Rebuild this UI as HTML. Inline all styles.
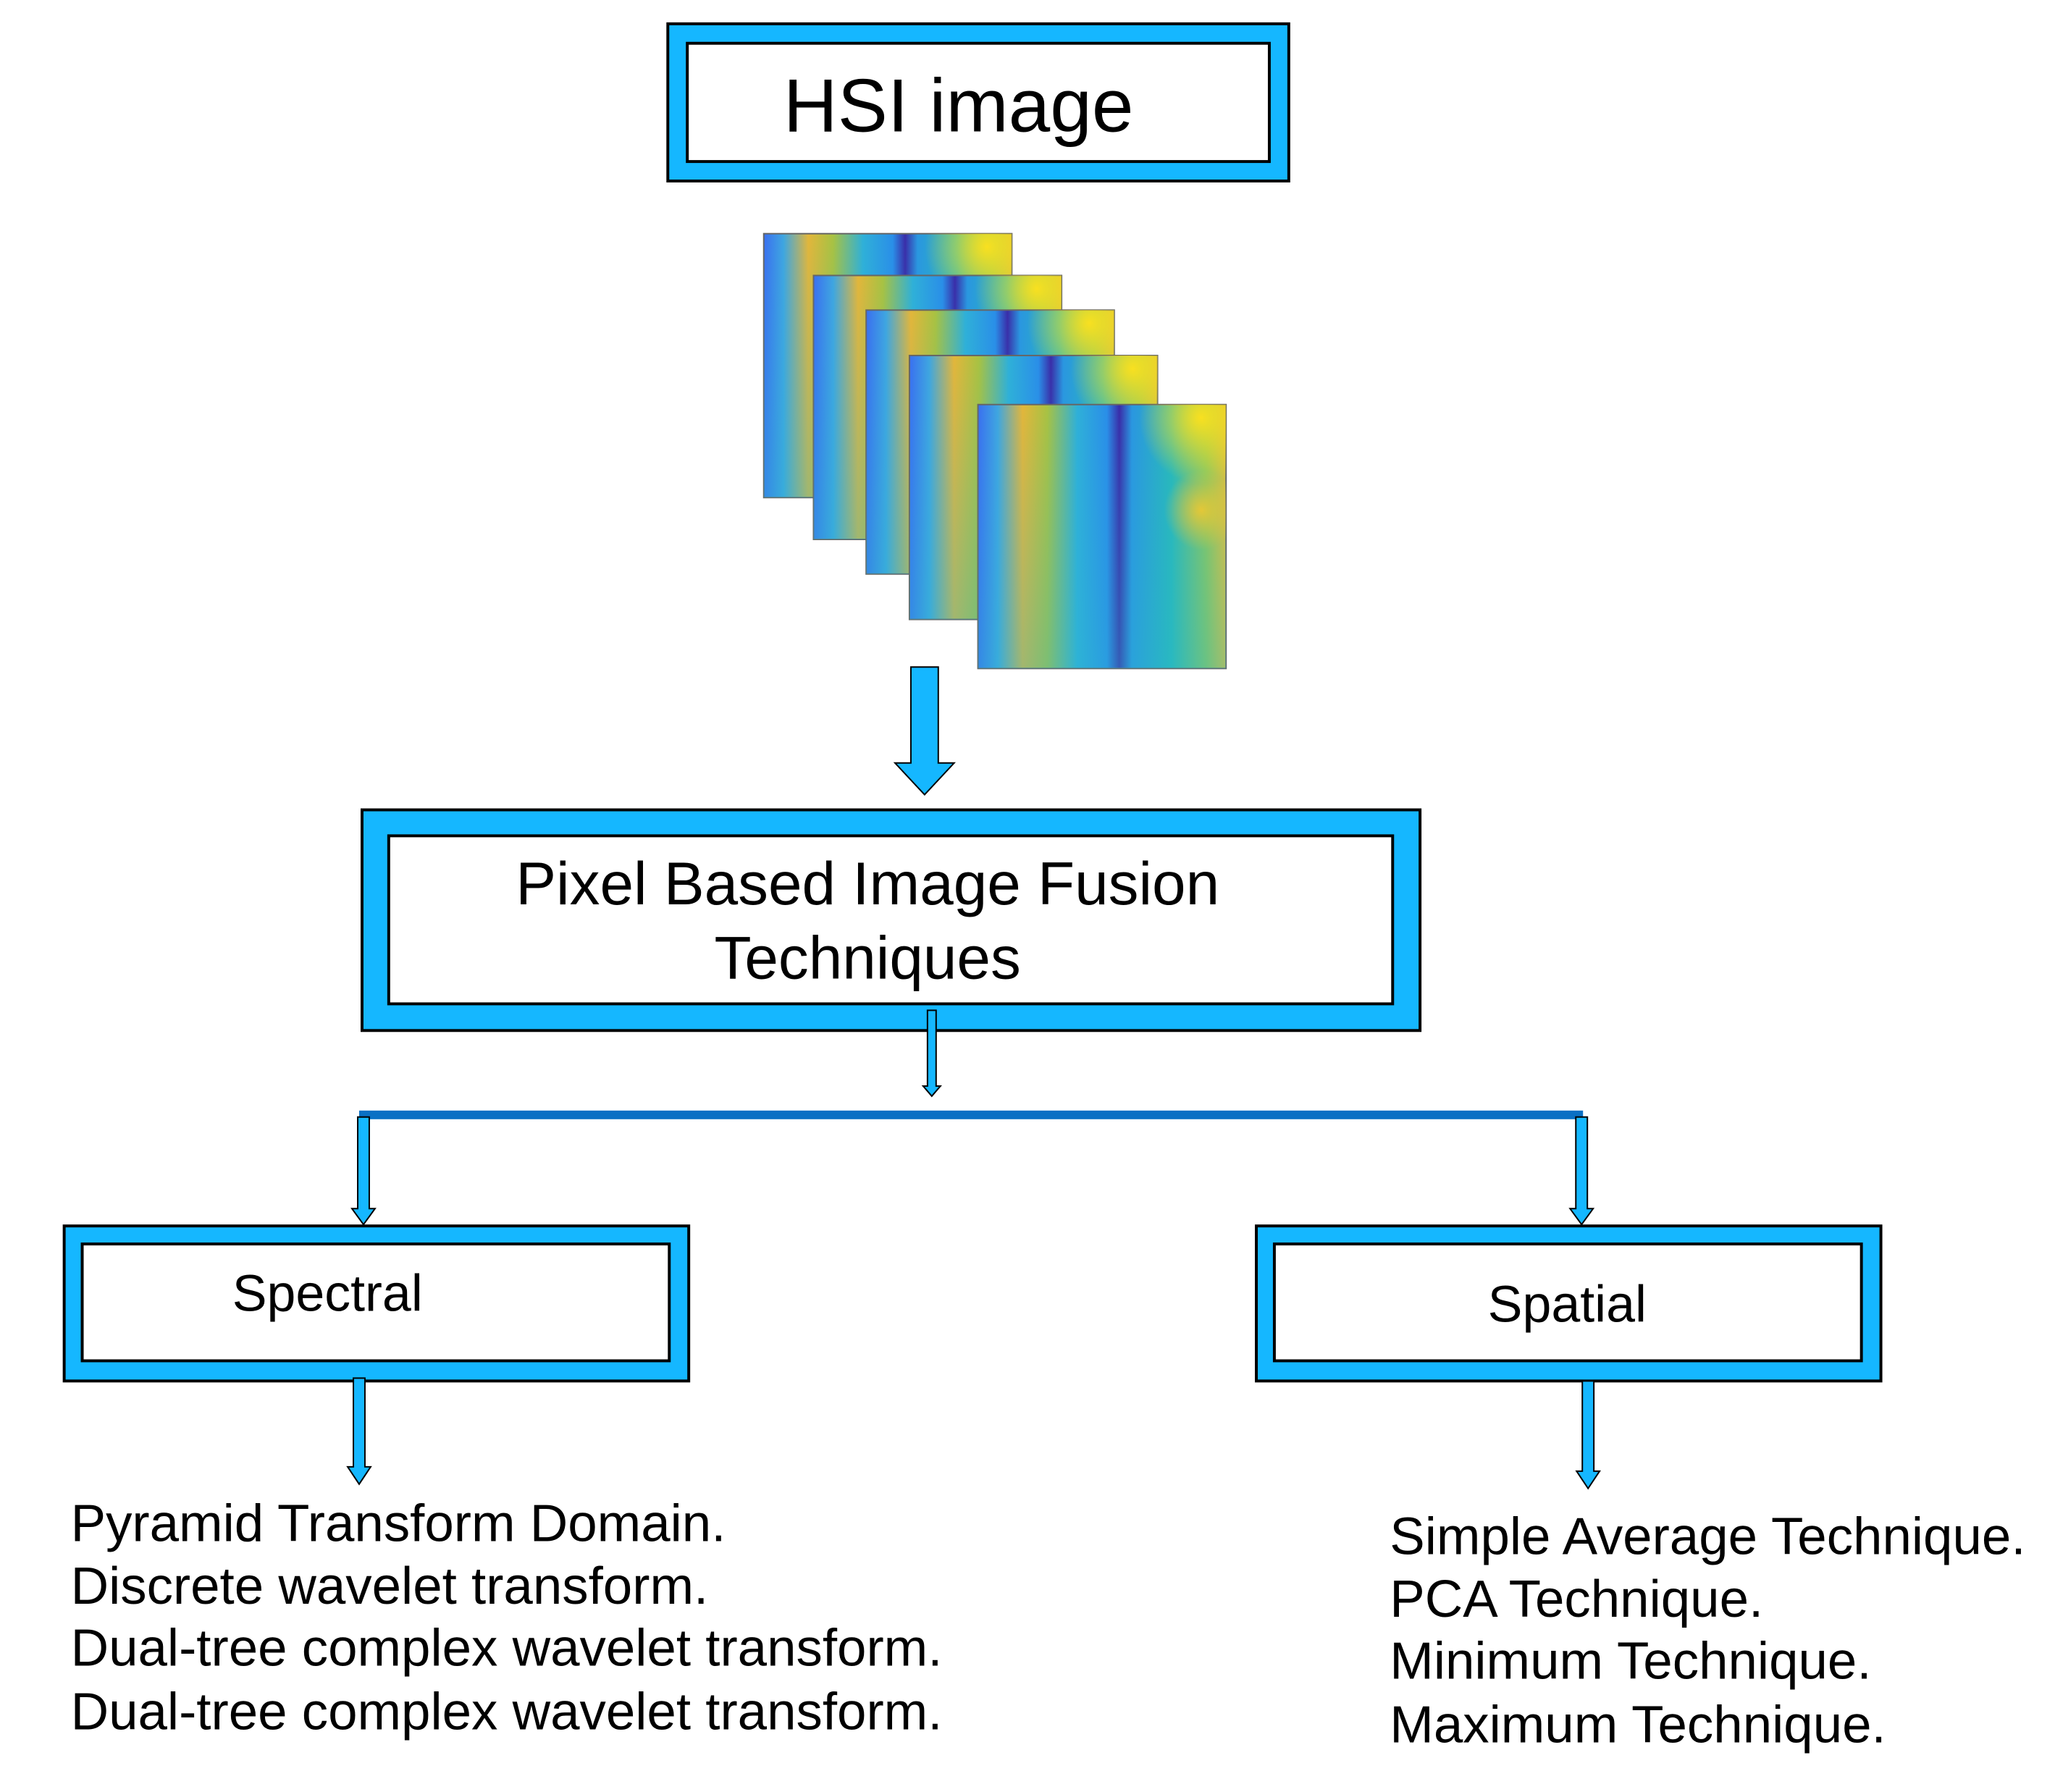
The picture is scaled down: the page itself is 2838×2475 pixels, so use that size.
<!DOCTYPE html>
<html><head><style>html,body{margin:0;padding:0;background:#fff}</style></head><body>
<svg width="2838" height="2470" viewBox="0 0 2838 2470" xmlns="http://www.w3.org/2000/svg" font-family="Liberation Sans, Arial, sans-serif">
<defs>
<linearGradient id="hm" x1="0" y1="0" x2="1" y2="0">
<stop offset="0" stop-color="#3a6ff0"/>
<stop offset="0.08" stop-color="#3fa6e0"/>
<stop offset="0.18" stop-color="#e3b63a"/>
<stop offset="0.28" stop-color="#a8c242"/>
<stop offset="0.4" stop-color="#2fb0d8"/>
<stop offset="0.52" stop-color="#2a8ee8"/>
<stop offset="0.57" stop-color="#3a2ca8"/>
<stop offset="0.62" stop-color="#2a96e0"/>
<stop offset="0.78" stop-color="#29b9b8"/>
<stop offset="0.92" stop-color="#8cc85a"/>
<stop offset="1" stop-color="#e5c135"/>
</linearGradient>
<radialGradient id="yl" cx="0.9" cy="0.05" r="0.25">
<stop offset="0" stop-color="#f8e020" stop-opacity="1"/>
<stop offset="1" stop-color="#f8e020" stop-opacity="0"/>
</radialGradient>
<radialGradient id="yl2" cx="0.9" cy="0.4" r="0.15">
<stop offset="0" stop-color="#f0c830" stop-opacity="0.9"/>
<stop offset="1" stop-color="#f0c830" stop-opacity="0"/>
</radialGradient>
<linearGradient id="vt" x1="0" y1="0" x2="0" y2="1">
<stop offset="0" stop-color="#2ab0e0" stop-opacity="0"/>
<stop offset="1" stop-color="#2ab8d0" stop-opacity="0.35"/>
</linearGradient>
<g id="pl"><rect width="344" height="366" fill="url(#hm)" stroke="#666" stroke-width="2"/><rect width="344" height="366" fill="url(#vt)"/><rect width="344" height="366" fill="url(#yl)"/><rect width="344" height="366" fill="url(#yl2)"/></g>
</defs>
<g transform="translate(-2,0) scale(0.996)">
<!-- HSI box -->
<rect x="928" y="33" width="861" height="218" fill="#15b7ff" stroke="#000" stroke-width="4"/>
<rect x="955" y="60" width="807" height="164" fill="#fff" stroke="#000" stroke-width="4"/>
<text x="1331" y="182" font-size="104" text-anchor="middle" fill="#000">HSI image</text>
<!-- heatmaps -->
<use href="#pl" x="1061" y="324"/>
<use href="#pl" x="1130" y="382"/>
<use href="#pl" x="1203" y="430"/>
<use href="#pl" x="1263" y="493"/>
<use href="#pl" x="1358" y="561"/>
<!-- arrow 1 -->
<polygon points="1265,925 1303,925 1303,1058 1325,1058 1284,1102 1243,1058 1265,1058" fill="#15b7ff" stroke="#000" stroke-width="2"/>
<!-- Pixel box -->
<rect x="504" y="1123" width="1467" height="306" fill="#15b7ff" stroke="#000" stroke-width="4"/>
<rect x="541" y="1159" width="1392" height="233" fill="#fff" stroke="#000" stroke-width="4"/>
<text x="1205" y="1254" font-size="84" text-anchor="middle" fill="#000">Pixel Based Image Fusion</text>
<text x="1205" y="1357" font-size="84" text-anchor="middle" fill="#000">Techniques</text>
<!-- small arrow -->
<polygon points="1288,1401 1300,1401 1300,1506 1306,1506 1294,1520 1282,1506 1288,1506" fill="#15b7ff" stroke="#000" stroke-width="2"/>
<!-- bar -->
<rect x="500" y="1540" width="1697" height="12" fill="#0a70c4"/>
<!-- down arrows -->
<polygon points="498,1549 514,1549 514,1676 522,1676 506,1698 490,1676 498,1676" fill="#15b7ff" stroke="#000" stroke-width="2"/>
<polygon points="2187,1549 2203,1549 2203,1676 2211,1676 2195,1698 2179,1676 2187,1676" fill="#15b7ff" stroke="#000" stroke-width="2"/>
<!-- Spectral -->
<rect x="91" y="1700" width="866" height="215" fill="#15b7ff" stroke="#000" stroke-width="4"/>
<rect x="116" y="1725" width="814" height="162" fill="#fff" stroke="#000" stroke-width="4"/>
<text x="324" y="1818" font-size="72" fill="#000">Spectral</text>
<!-- Spatial -->
<rect x="1744" y="1700" width="866" height="215" fill="#15b7ff" stroke="#000" stroke-width="4"/>
<rect x="1769" y="1725" width="814" height="162" fill="#fff" stroke="#000" stroke-width="4"/>
<text x="2175" y="1833" font-size="72" text-anchor="middle" fill="#000">Spatial</text>
<!-- arrows to lists -->
<polygon points="492,1911 508,1911 508,2034 516,2034 500,2058 484,2034 492,2034" fill="#15b7ff" stroke="#000" stroke-width="2"/>
<polygon points="2196,1915 2212,1915 2212,2040 2220,2040 2204,2064 2188,2040 2196,2040" fill="#15b7ff" stroke="#000" stroke-width="2"/>
<!-- lists -->
<g font-size="73" fill="#000">
<text x="100" y="2137">Pyramid Transform Domain.</text>
<text x="100" y="2224">Discrete wavelet transform.</text>
<text x="100" y="2310">Dual-tree complex wavelet transform.</text>
<text x="100" y="2398">Dual-tree complex wavelet transform.</text>
<text x="1929" y="2155">Simple Average Technique.</text>
<text x="1929" y="2242">PCA Technique.</text>
<text x="1929" y="2328">Minimum Technique.</text>
<text x="1929" y="2416">Maximum Technique.</text>
</g>
</g>
</svg>
</body></html>
